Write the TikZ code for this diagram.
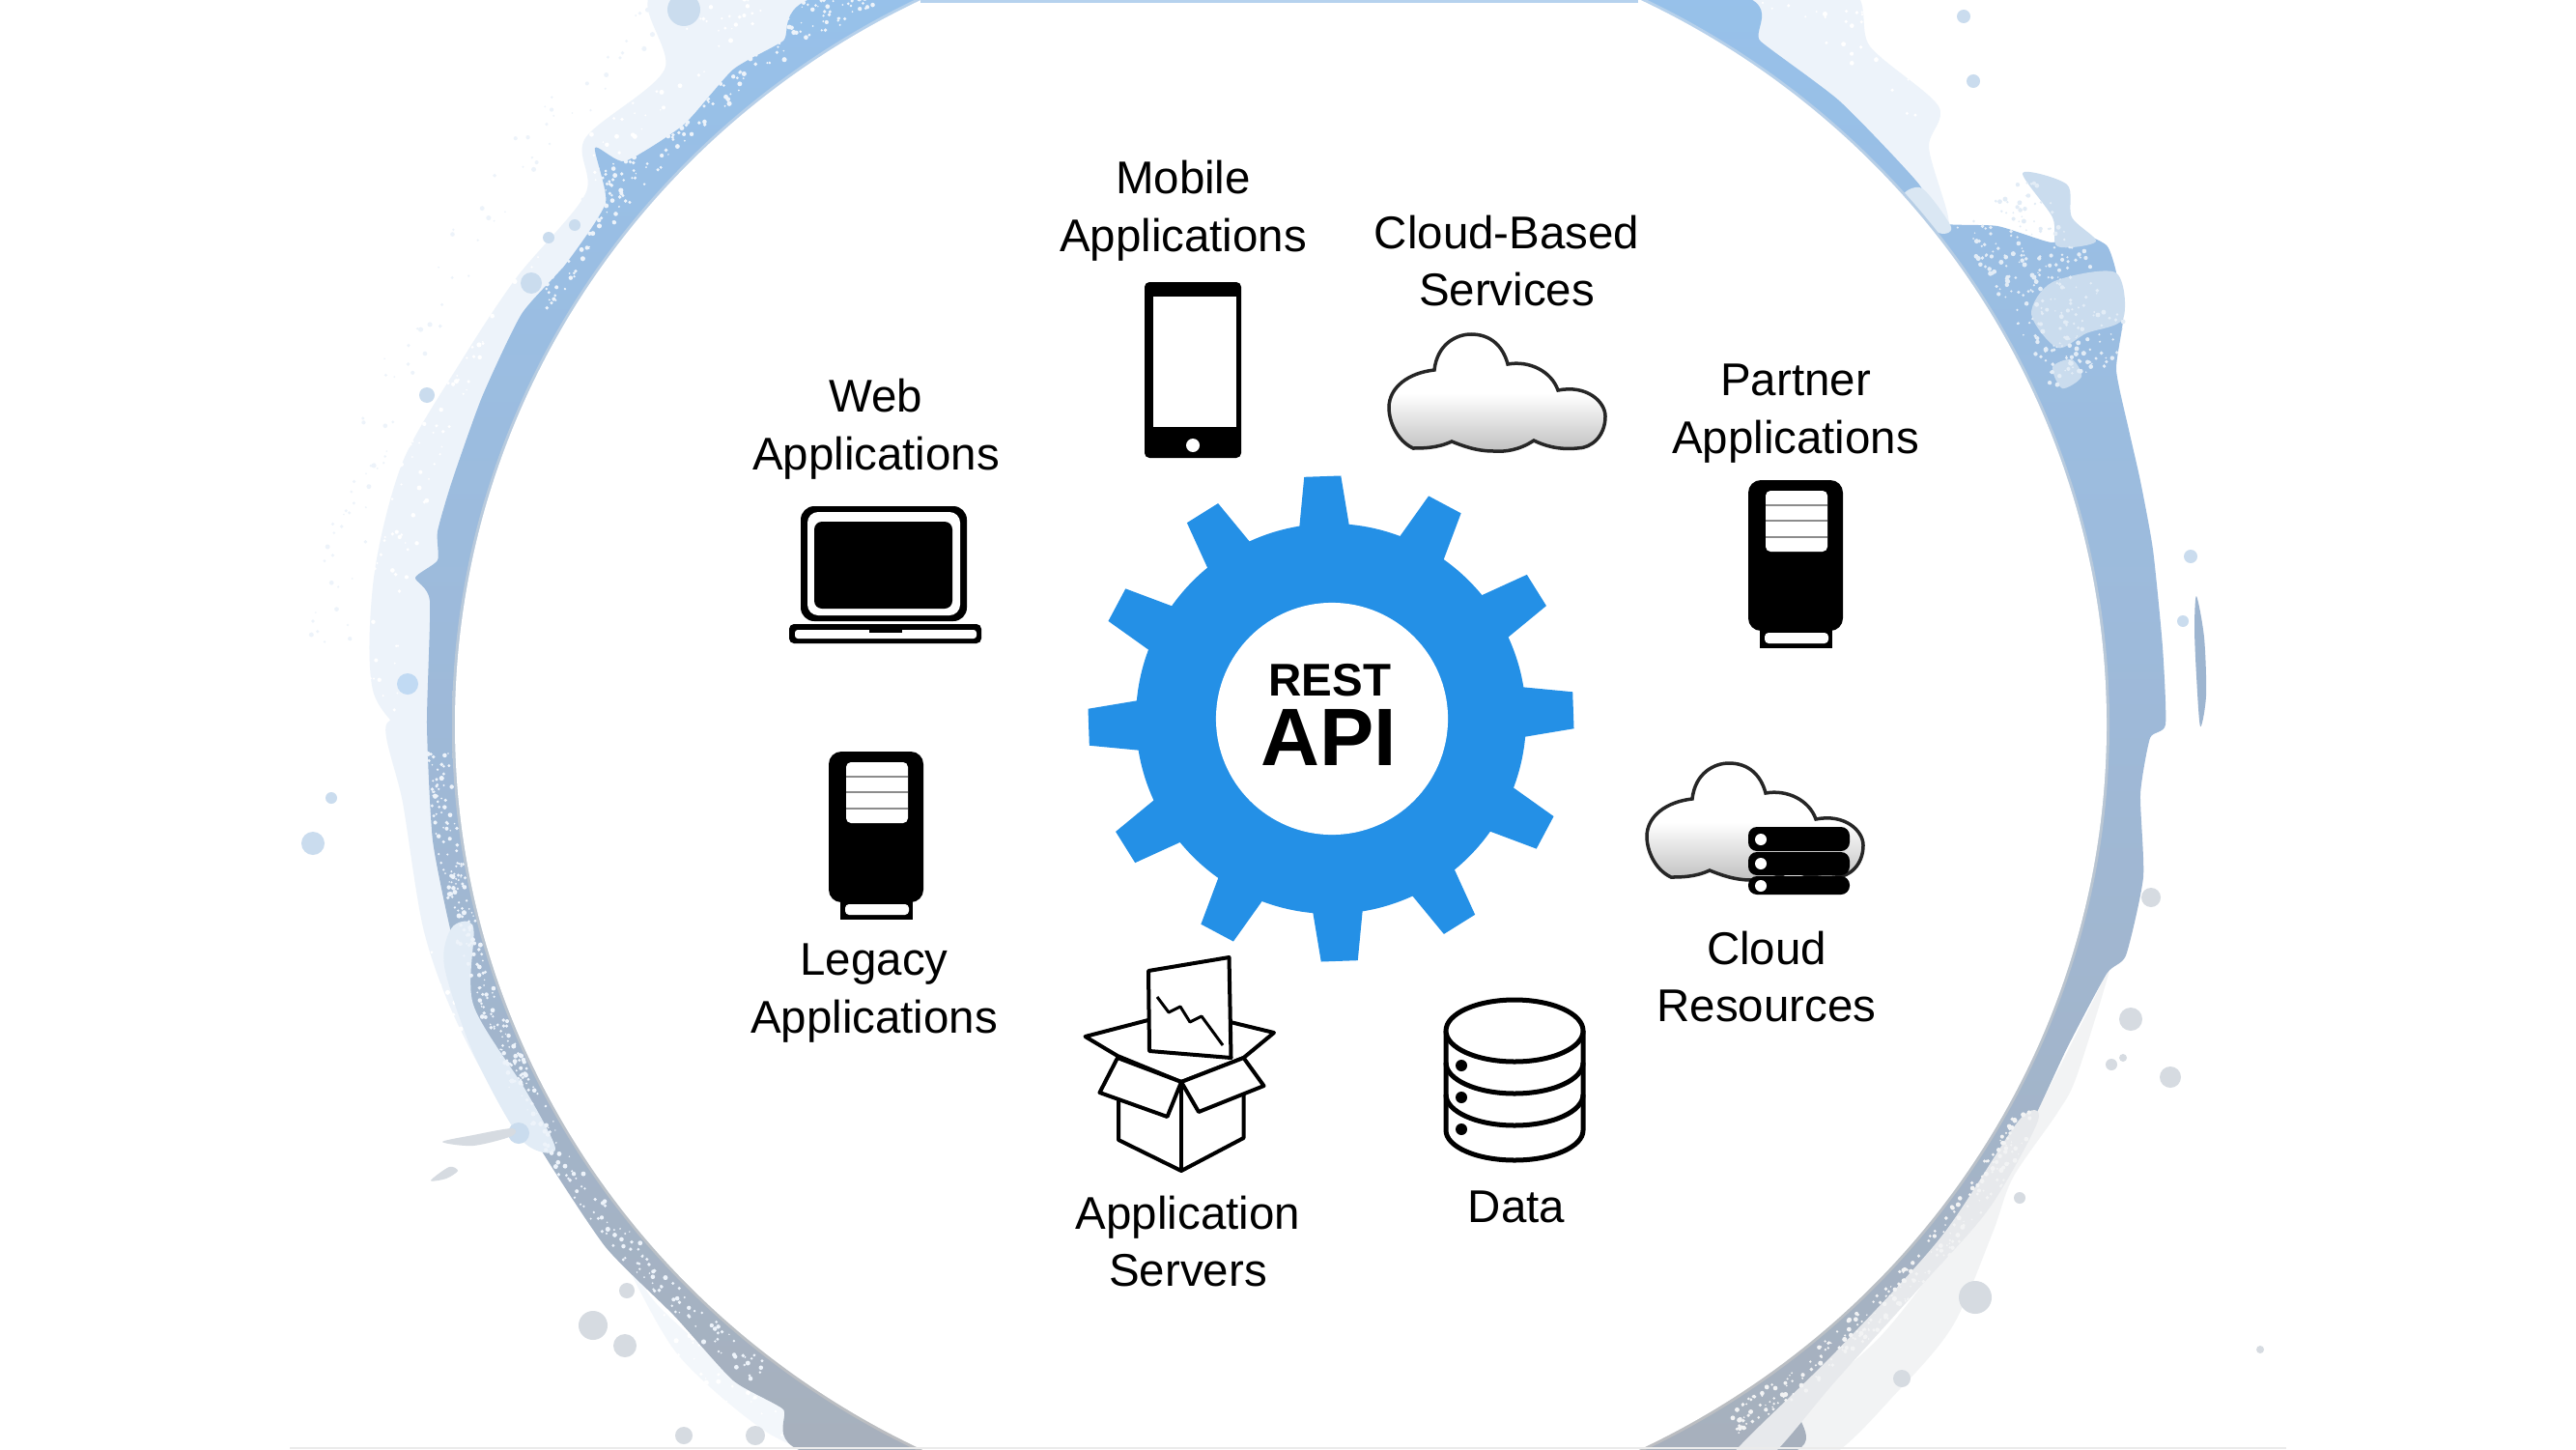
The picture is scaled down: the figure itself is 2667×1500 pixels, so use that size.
\documentclass[tikz,border=0pt]{standalone}
\usepackage{fontspec}
\setmainfont{Liberation Sans}
\definecolor{gearblue}{HTML}{2490E6}
\definecolor{ringtop}{HTML}{97C1EA}
\definecolor{ringmid}{HTML}{9EB9D8}
\definecolor{ringbot}{HTML}{A7B0BC}
\definecolor{rimtop}{HTML}{B6D2EE}
\definecolor{rimbot}{HTML}{BBBCBE}
\definecolor{washblue}{HTML}{EDF3FA}
\definecolor{washgray}{HTML}{F2F3F4}
\definecolor{dropblue}{HTML}{CADCEE}
\definecolor{dropgray}{HTML}{D6DBE1}
\definecolor{streakblue}{HTML}{9DB5D0}

% scatter of small flecks along the ring: from angle, spread, from scale, spread, count, colour
\newcommand{\flecks}[6]{%
  \foreach \i in {1,...,#5} {
    \pgfmathsetmacro{\t}{#1+#2*rnd}
    \pgfmathsetmacro{\s}{#3+#4*rnd}
    \pgfmathsetmacro{\fr}{0.8+1.8*rnd}
    \fill[#6] ({1326+855*\s*cos(\t)},{750-833*\s*sin(\t)}) circle [radius=\fr];
  }}

\begin{document}
\begin{tikzpicture}[
    x=0.01cm, y=-0.01cm,
    label/.style={align=center, inner sep=0pt, font=\fontsize{13.5}{17}\selectfont},
    tooth/.style={fill=gearblue},
    icon/.style={draw=black, line width=0.04cm, line join=round, fill=white},
    cloudicon/.pic={
        \shade[draw=black!85, line width=0.035cm, top color=white, bottom color=black!25, middle color=white]
            (47,37) .. controls (50,10) and (70,0) .. (85,0)
            .. controls (105,0) and (118,12) .. (123,31)
            .. controls (145,27) and (168,38) .. (175,58)
            .. controls (205,52) and (224,70) .. (224,85)
            .. controls (224,105) and (210,118) .. (195,118)
            .. controls (175,120) and (160,115) .. (150,110)
            .. controls (135,120) and (120,122) .. (108,121)
            .. controls (90,121) and (75,115) .. (65,111)
            .. controls (50,118) and (35,118) .. (25,118)
            .. controls (8,110) and (0,90) .. (0,76)
            .. controls (0,55) and (20,40) .. (47,37) -- cycle;
    },
    servericon/.pic={
        \fill[black, rounded corners=0.13cm] (0,0) rectangle (98,156);
        \fill[black] (12,150) rectangle (87,174);
        \fill[white, rounded corners=0.04cm] (17,158) rectangle (83,169);
        \fill[white, rounded corners=0.05cm] (18,11) rectangle (82,74);
        \foreach \y in {26,42,59} \draw[black!45, line width=0.02cm] (18,\y) -- (82,\y);
    }
]
\useasboundingbox (0,0) rectangle (2667,1500);
\clip (0,0) rectangle (2667,1500);
\fill[white] (0,0) rectangle (2667,1500);
\pgfmathsetseed{11}

% Washes outside the ring
\fill[washblue] plot[smooth cycle, tension=0.5] coordinates {(442,780) (387,718) (387,598) (417,478) (478,373) (535,287) (606,201) (606,143) (688,72) (680,-10) (900,-10) (760,120) (600,300) (480,520) (440,760)};
\fill[washblue] plot[smooth cycle, tension=0.5] coordinates {(1772,-10) (1915,-10) (1936,48) (2007,110) (1997,153) (2017,225) (2010,250) (1900,130) (1790,30)};
\fill[washblue] plot[smooth cycle, tension=0.5] coordinates {(400,750) (417,831) (438,960) (468,1047) (514,1133) (570,1190) (540,1120) (480,1000) (460,850) (450,750)};
\fill[washblue!70] plot[smooth cycle, tension=0.5] coordinates {(640,1290) (700,1400) (790,1480) (860,1510) (890,1510) (760,1420) (680,1350)};
\fill[washgray] plot[smooth cycle, tension=0.5] coordinates {(2185,1000) (2150,1114) (2130,1152) (2084,1219) (2063,1276) (2022,1372) (1966,1439) (1890,1510) (1800,1510) (1950,1380) (2080,1200) (2160,1050)};
\flecks{125}{58}{1.07}{0.08}{260}{white}
\flecks{36}{50}{1.07}{0.07}{120}{white}
\flecks{195}{45}{1.03}{0.07}{160}{white}
\flecks{125}{50}{1.13}{0.05}{90}{washblue}

% Ring
\shade[top color=ringtop, bottom color=ringbot, middle color=ringmid] plot[smooth cycle, tension=0.35] coordinates {
    (442,750) (445,622) (430,598) (453,580) (453,550) (468,498) (499,411) (540,325) (586,273) (627,210)
    (616,153) (647,167) (708,129) (759,72) (810,43) (887,-10) (1767,-10) (1823,43) (1905,105) (1987,191)
    (2002,230) (2068,234) (2124,251) (2150,240) (2181,254) (2191,282) (2198,330) (2191,383) (2204,445)
    (2216,498) (2229,569) (2239,670) (2242,750) (2226,764) (2216,822) (2219,908) (2201,989) (2181,1008)
    (2140,1085) (2099,1171) (2048,1248) (1997,1319) (1936,1382) (1864,1458) (1813,1510) (877,1510)
    (810,1458) (759,1429) (698,1362) (627,1291) (560,1190) (530,1128) (489,1042) (468,970) (448,870)};

% Pale patches on the ring
\fill[dropblue!70!white] plot[smooth cycle, tension=0.5] coordinates {(1970,205) (1990,195) (2020,235) (2005,240)};
\fill[dropblue] plot[smooth cycle, tension=0.5] coordinates {(2103,325) (2125,292) (2190,282) (2198,330) (2160,345) (2130,360)};
\fill[dropblue] plot[smooth cycle, tension=0.5] coordinates {(2125,380) (2145,372) (2155,390) (2135,402)};
\fill[dropblue] plot[smooth cycle, tension=0.5] coordinates {(2094,179) (2140,191) (2145,225) (2170,250) (2130,255) (2125,225)};
\fill[washblue!70!dropblue] plot[smooth cycle, tension=0.5] coordinates {(468,960) (490,960) (490,1040) (545,1130) (575,1190) (540,1180) (490,1090) (460,1000)};
\fill[washgray!60!dropgray] plot[smooth cycle, tension=0.5] coordinates {(2110,1160) (2060,1250) (1990,1330) (1900,1430) (1830,1510) (1790,1510) (1900,1400) (2010,1280) (2090,1160)};

% Flecks
\flecks{113}{37}{1.02}{0.05}{340}{washblue}
\flecks{182}{24}{1.005}{0.028}{200}{washblue}
\flecks{204}{28}{1.008}{0.03}{150}{washblue}
\flecks{24}{13}{1.02}{0.12}{260}{dropblue!55!white}
\flecks{302}{30}{1.01}{0.035}{260}{washgray}

% Drops
\foreach \x/\y/\r in {442/409/8, 568/246/6, 595/233/6, 550/293/11, 708/10/17, 2033/17/7, 2043/84/7, 2268/576/7, 2260/643/6, 343/826/6, 324/873/12, 537/1173/11} {
    \fill[dropblue] (\x,\y) circle [radius=\r];
}
\foreach \x/\y/\r in {649/1336/8, 614/1372/15, 647/1393/12, 708/1486/9, 782/1486/10, 2227/929/10, 2206/1055/12, 2186/1102/6, 2198/1095/4, 2247/1115/11, 2091/1240/6, 2045/1343/17, 1969/1427/9, 2340/1397/4} {
    \fill[dropgray] (\x,\y) circle [radius=\r];
}
\fill[ringtop!60!white] (422,708) circle [radius=11];
\fill[streakblue] plot[smooth cycle, tension=0.5] coordinates {(2274,617) (2282,660) (2284,720) (2278,752) (2274,700) (2272,650)};
\fill[dropgray] plot[smooth cycle, tension=0.5] coordinates {(458,1182) (490,1175) (530,1168) (530,1176) (490,1186)};
\fill[dropgray] plot[smooth cycle, tension=0.5] coordinates {(446,1222) (465,1208) (474,1212) (462,1220)};

% White disc
\shade[top color=rimtop, bottom color=rimbot] (1326,750) ellipse [x radius=858, y radius=836];
\fill[white] (1326,750) ellipse [x radius=855, y radius=833];
\fill[rimtop] (953,0) rectangle (1696,3);
\fill[black!8] (300,1498) rectangle (2367,1500);

% Gear
\coordinate (gear) at (1378,744);
\fill[gearblue] (gear) circle [radius=202];
\foreach \a in {2,32,...,332} {
    \fill[tooth, shift={(gear)}, rotate=\a] (190,-27) -- (251,-19) -- (251,19) -- (190,27) -- cycle;
}
\node[circle, fill=white, minimum size=2.4cm, inner sep=0pt] (hub) at (1379,744) {};
\node[inner sep=0pt, font=\fontsize{13.5}{14}\selectfont\bfseries] (rest) at (1377,704) {REST};
\node[inner sep=0pt, font=\fontsize{24}{24}\selectfont\bfseries] (api) at (1376,763) {API};

% Mobile
\fill[black, rounded corners=0.05cm] (1185,292) rectangle (1285,474);
\fill[white] (1194,307) rectangle (1280,442);
\fill[white] (1235,461) circle [radius=7];

% Laptop
\fill[black, rounded corners=0.14cm] (829,524) rectangle (1001,643);
\fill[white, rounded corners=0.11cm] (836,530) rectangle (994,637);
\fill[black, rounded corners=0.08cm] (843,540) rectangle (986,630);
\fill[black, rounded corners=0.05cm] (817,646) rectangle (1016,666);
\fill[white, rounded corners=0.03cm] (823,652) rectangle (1011,661);
\fill[black] (900,647) rectangle (934,655);

% Clouds and servers
\pic (servicescloud) at (1438,346) {cloudicon};
\pic (resourcescloud) at (1705,790) {cloudicon};
\pic (partnerserver) at (1810,497) {servericon};
\pic (legacyserver) at (858,778) {servericon};
\foreach \y/\h/\d in {856/25/869, 882/24/894, 907/19/917} {
    \fill[black, rounded corners=0.09cm] (1810,\y) rectangle (1915,\y+\h);
    \fill[white] (1823,\d) circle [radius=6];
}

% Box
\draw[icon] (1188.7,1056) -- (1123.5,1073) -- (1157,1093) -- (1223,1120) -- (1287.5,1095) -- (1319,1069) -- (1273.7,1058) -- cycle;
\draw[icon] (1189,1005) -- (1272.5,991) -- (1274.5,1095) -- (1190,1088) -- cycle;
\draw[line width=0.03cm, line join=round] (1198,1032) -- (1210,1048) -- (1222,1042) -- (1232,1058) -- (1244,1052) -- (1266,1082);
\draw[icon] (1158,1105) -- (1158,1180) -- (1223,1212) -- (1287.5,1178) -- (1287.5,1105) -- (1223,1120) -- cycle;
\draw[line width=0.04cm] (1223,1120) -- (1223,1212);
\draw[icon] (1157,1095) -- (1138.5,1131) -- (1208.5,1156) -- (1223,1120) -- cycle;
\draw[icon] (1287.5,1095) -- (1308.5,1124) -- (1241,1151) -- (1223,1120) -- cycle;

% Data
\draw[icon, line width=0.05cm] (1497,1067) -- (1497,1170) arc [start angle=180, end angle=0, x radius=71, y radius=31] -- (1639,1067);
\foreach \y in {1100,1133} {
    \draw[line width=0.05cm] (1497,\y) arc [start angle=180, end angle=0, x radius=71, y radius=32];
}
\draw[icon, line width=0.05cm] (1568,1067) ellipse [x radius=71, y radius=32];
\foreach \y in {1103,1136,1169} {
    \fill[black] (1513,\y) circle [radius=6];
}

% Labels
\node[label] (mobile) at (1225,218) {Mobile\\Applications};
\node[label] (services) at (1560,270) {Cloud-Based\\Services};
\node[label] (partner) at (1859,428) {Partner\\Applications};
\node[label] (web) at (907,444) {Web\\Applications};
\node[label] (legacy) at (905,1028) {Legacy\\Applications};
\node[label] (servers) at (1230,1285) {Application\\Servers};
\node[label] (data) at (1570,1249) {Data};
\node[label] (resources) at (1829,1011) {Cloud\\Resources};

\end{tikzpicture}
\end{document}
